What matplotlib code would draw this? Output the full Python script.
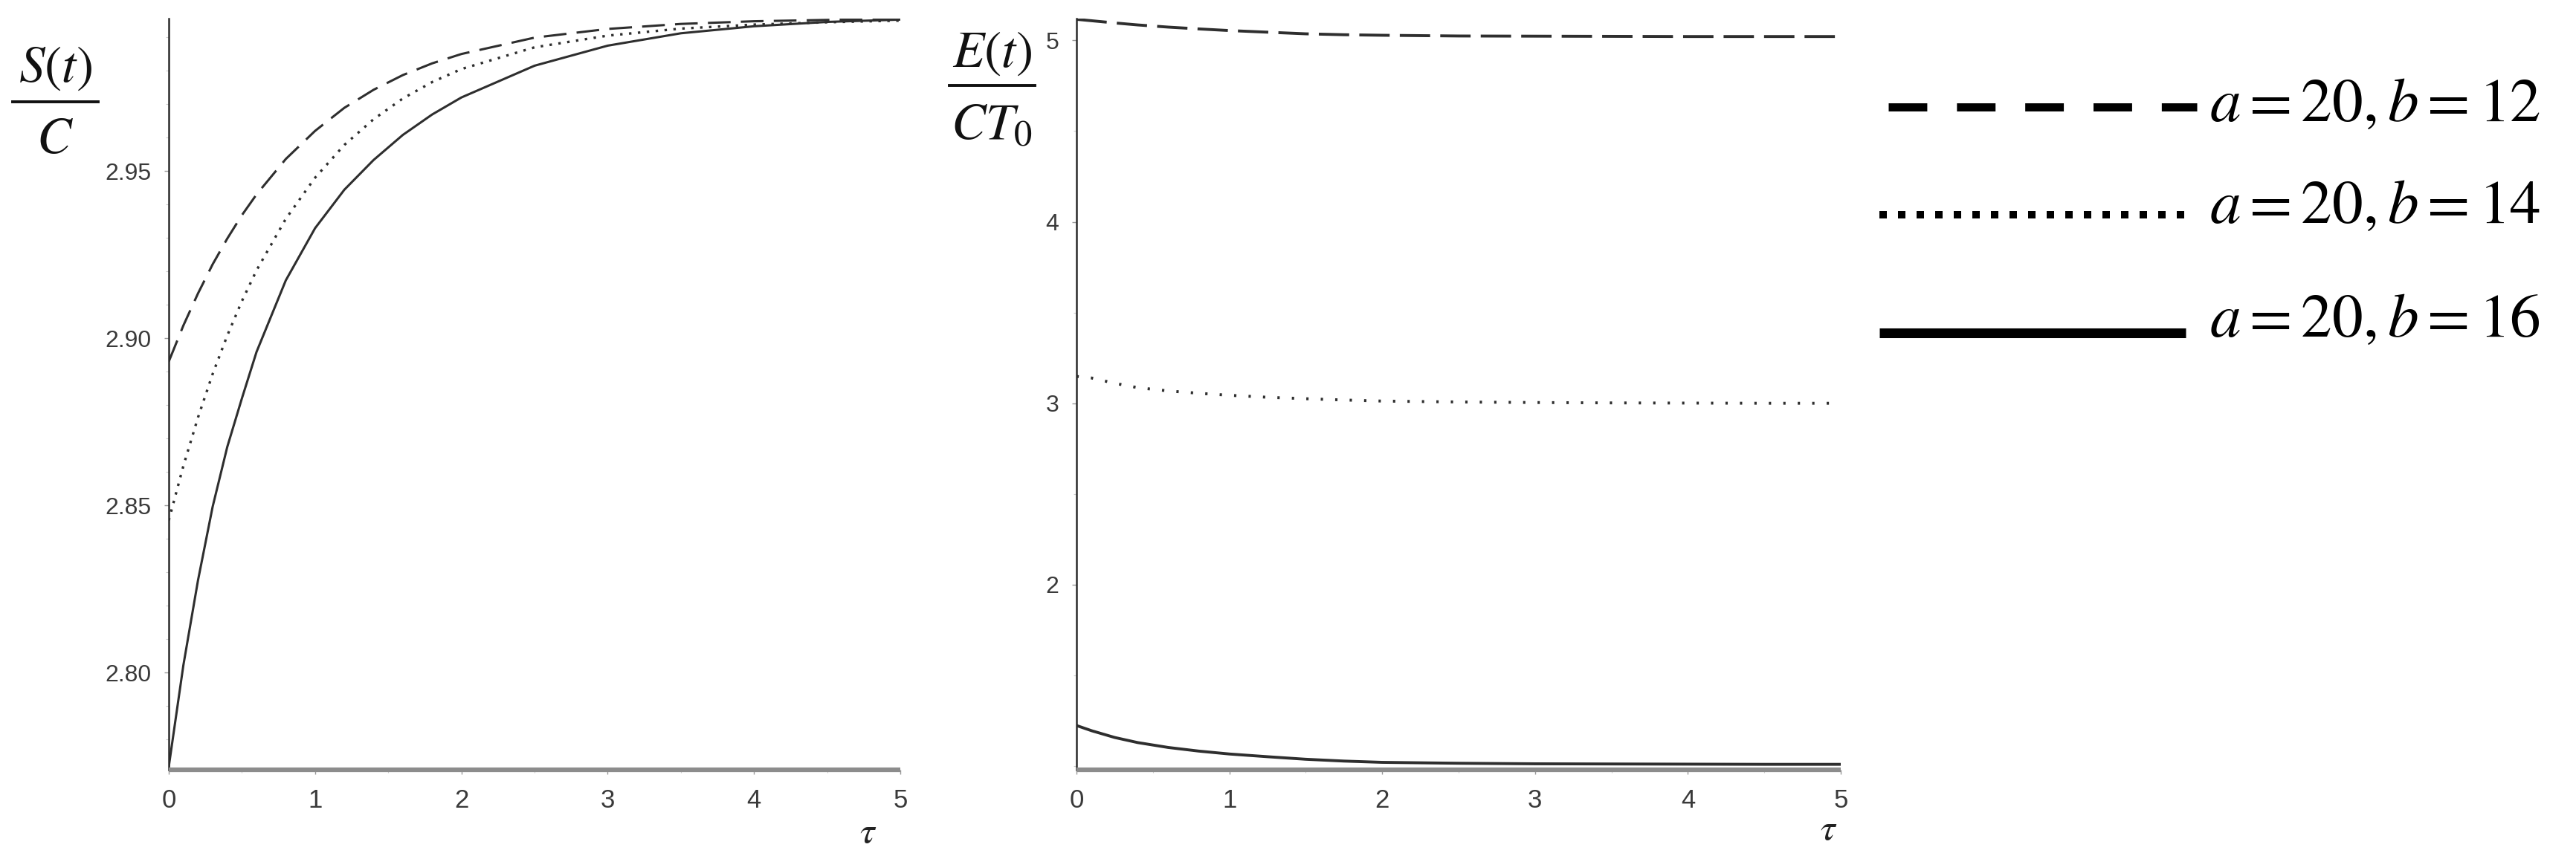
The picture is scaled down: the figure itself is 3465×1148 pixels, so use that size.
import matplotlib
matplotlib.use("Agg")
import matplotlib.pyplot as plt
from matplotlib.lines import Line2D
from matplotlib.ticker import MultipleLocator, FixedLocator

plt.rcParams['mathtext.fontset'] = 'stix'
plt.rcParams['font.family'] = ['Liberation Sans', 'DejaVu Sans']

# ---------------- data ----------------
tau_S = [0, 0.1, 0.2, 0.3, 0.4, 0.5, 0.6, 0.8, 1.0, 1.2, 1.4, 1.6, 1.8, 2.0,
         2.5, 3.0, 3.5, 4.0, 4.5, 5.0]
S_b12 = [2.893, 2.9038, 2.9134, 2.9221, 2.9298, 2.9368, 2.943, 2.9536, 2.962,
         2.9689, 2.9743, 2.9787, 2.9822, 2.985, 2.9899, 2.9925, 2.994, 2.9948,
         2.9952, 2.9955]
S_b14 = [2.8455, 2.8618, 2.8763, 2.8893, 2.9008, 2.9111, 2.9203, 2.9357, 2.948,
         2.9578, 2.9655, 2.9717, 2.9766, 2.9805, 2.987, 2.9905, 2.9926, 2.9938,
         2.9945, 2.995]
S_b16 = [2.7718, 2.8022, 2.8276, 2.8496, 2.8675, 2.882, 2.8959, 2.9173, 2.9329,
         2.9444, 2.9533, 2.9608, 2.9669, 2.972, 2.9815, 2.9875, 2.9912, 2.9933,
         2.9946, 2.9953]

tau_E = [0, 0.1, 0.25, 0.4, 0.6, 0.8, 1.0, 1.25, 1.5, 1.75, 2.0, 2.5, 3.0,
         3.5, 4.0, 4.5, 5.0]
E_b12 = [5.116, 5.108, 5.096, 5.085, 5.073, 5.063, 5.054, 5.045, 5.036, 5.031,
         5.028, 5.024, 5.023, 5.022, 5.021, 5.021, 5.021]
E_b14 = [3.148, 3.139, 3.11, 3.086, 3.068, 3.055, 3.044, 3.033, 3.025, 3.018,
         3.012, 3.007, 3.004, 3.002, 3.001, 3.0, 3.0]
E_b16 = [1.224, 1.195, 1.158, 1.13, 1.103, 1.083, 1.067, 1.052, 1.038, 1.028,
         1.021, 1.016, 1.013, 1.012, 1.011, 1.01, 1.01]

x_ticks = [0, 1, 2, 3, 4, 5]
S_ticks = [2.80, 2.85, 2.90, 2.95]
S_tick_labels = ["2.80", "2.85", "2.90", "2.95"]
E_ticks = [2, 3, 4, 5]
E_tick_labels = ["2", "3", "4", "5"]
legend_labels = [r"$a=20,b=12$", r"$a=20,b=14$", r"$a=20,b=16$"]

# ---------------- figure ----------------
W, H = 3465, 1148
fig = plt.figure(figsize=(W / 100, H / 100), dpi=100)


def fx(px):
    return px / W


def fy(py):
    return 1 - py / H


ax1 = fig.add_axes([fx(227), fy(1036), fx(1211) - fx(227), fy(25) - fy(1036)])
ax2 = fig.add_axes([fx(1448), fy(1036), fx(2476) - fx(1448), fy(25) - fy(1036)])

line_col = '#2e2e2e'

# Left panel
ax1.plot(tau_S, S_b12, color=line_col, lw=2.2, linestyle=(0, (10, 4.5)))
ax1.plot(tau_S, S_b14, color=line_col, lw=2.4, linestyle=(0, (1.0, 2.6)))
ax1.plot(tau_S, S_b16, color=line_col, lw=2.2, linestyle='-')
ax1.set_xlim(0, 5)
ax1.set_ylim(2.7709, 2.9956)
ax1.yaxis.set_major_locator(FixedLocator(S_ticks))
ax1.set_yticklabels(S_tick_labels)
ax1.yaxis.set_minor_locator(MultipleLocator(0.01))

# Right panel
ax2.plot(tau_E, E_b12, color=line_col, lw=2.8, linestyle=(0, (10.5, 3.5)))
ax2.plot(tau_E, E_b14, color=line_col, lw=2.8, linestyle=(0, (0.8, 4.2)))
ax2.plot(tau_E, E_b16, color=line_col, lw=2.8, linestyle='-')
ax2.set_xlim(0, 5)
ax2.set_ylim(0.98, 5.12)
ax2.yaxis.set_major_locator(FixedLocator(E_ticks))
ax2.set_yticklabels(E_tick_labels)
ax2.yaxis.set_minor_locator(MultipleLocator(0.5))

for ax in (ax1, ax2):
    ax.xaxis.set_major_locator(FixedLocator(x_ticks))
    ax.set_xticklabels([str(v) for v in x_ticks])
    ax.xaxis.set_minor_locator(MultipleLocator(0.5))
    ax.spines['top'].set_visible(False)
    ax.spines['right'].set_visible(False)
    ax.spines['left'].set_color('#2a2a2a')
    ax.spines['left'].set_linewidth(1.8)
    ax.spines['bottom'].set_color('#8c8c8c')
    ax.spines['bottom'].set_linewidth(4.5)
    ax.spines['bottom'].set_capstyle('butt')
    ax.tick_params(axis='both', which='major', direction='out', length=4,
                   width=1.0, color='#999999', labelsize=23,
                   labelcolor='#3a3a3a')
    ax.tick_params(axis='y', which='major', pad=13)
    ax.tick_params(axis='x', which='major', pad=14, labelsize=25)
    ax.tick_params(axis='both', which='minor', direction='out', length=3,
                   width=0.8, color='#cccccc')
    ax.set_facecolor('white')
    for lab in ax.get_xticklabels() + ax.get_yticklabels():
        lab.set_fontfamily(['Liberation Sans', 'DejaVu Sans'])

# tau labels
fig.text(fx(1168), fy(1121), r"$\tau$", fontsize=36, ha='center', va='center',
         color='#222222')
fig.text(fx(2460), fy(1117), r"$\tau$", fontsize=36, ha='center', va='center',
         color='#222222')

# y labels as stacked fractions
frac_fs = 50
fig.text(fx(75), fy(110), r"$S(t)$", fontsize=frac_fs, ha='center',
         va='baseline', color='#111111')
fig.add_artist(Line2D([fx(17), fx(132)], [fy(137), fy(137)], color='#111111',
                      lw=2.8, transform=fig.transFigure))
fig.text(fx(74), fy(206), r"$C$", fontsize=frac_fs, ha='center',
         va='baseline', color='#111111')

fig.text(fx(1334), fy(90), r"$E(t)$", fontsize=frac_fs, ha='center',
         va='baseline', color='#111111')
fig.add_artist(Line2D([fx(1277), fx(1392)], [fy(115), fy(115)],
                      color='#111111', lw=2.8, transform=fig.transFigure))
fig.text(fx(1334), fy(187), r"$CT_0$", fontsize=frac_fs, ha='center',
         va='baseline', color='#111111')

# legend drawn on the figure
leg_styles = [
    dict(x0=2540, x1=2955, y=143.5, lw=7.9, ls=(0, (4.73, 3.64))),
    dict(x0=2528, x1=2944, y=289, lw=7.2, ls=(0, (1.0, 1.5))),
    dict(x0=2528, x1=2940, y=448, lw=9.4, ls='-'),
]
text_base = [163, 300, 453]
for st, lab, tb in zip(leg_styles, legend_labels, text_base):
    ln = Line2D([fx(st['x0']), fx(st['x1'])], [fy(st['y']), fy(st['y'])],
                color='black', lw=st['lw'], linestyle=st['ls'],
                transform=fig.transFigure)
    ln.set_dash_capstyle('butt')
    ln.set_solid_capstyle('butt')
    fig.add_artist(ln)
    fig.text(fx(2972), fy(tb), lab, fontsize=60, ha='left', va='baseline',
             color='black')

fig.savefig("out.png", dpi=100, facecolor='white')
